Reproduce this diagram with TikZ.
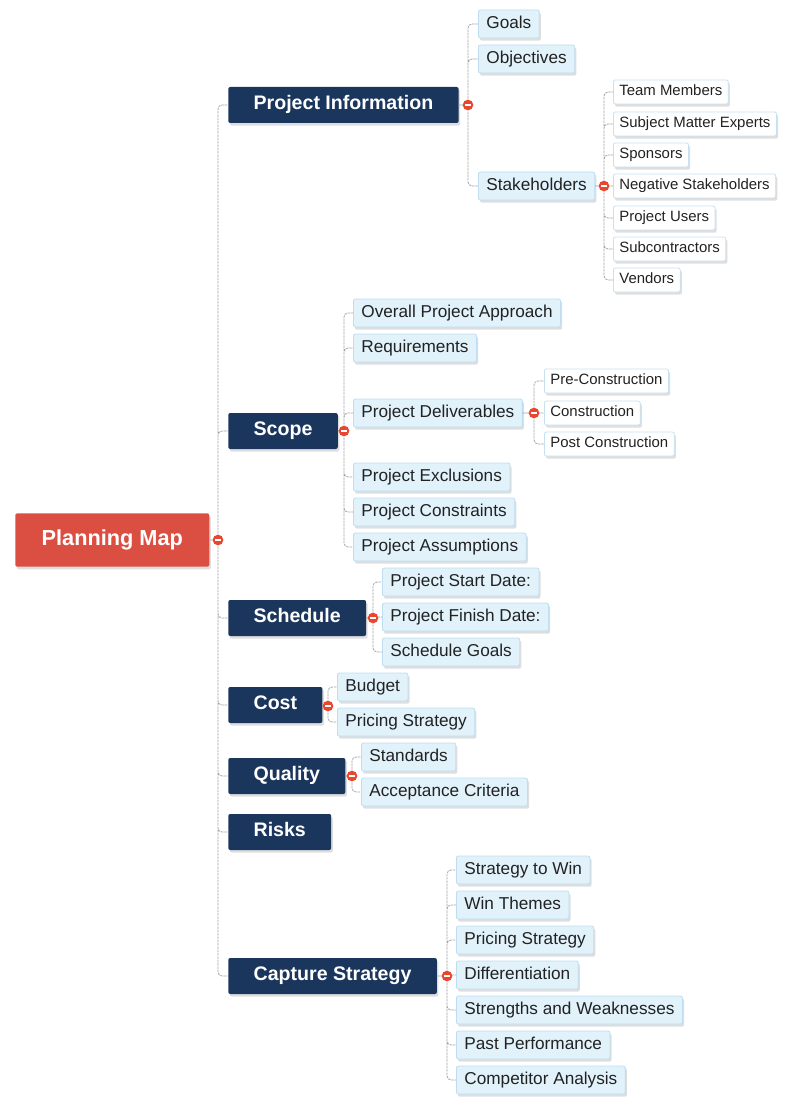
\documentclass[tikz,border=0pt]{standalone}
\usepackage{fontspec}
\setmainfont{Liberation Sans}
\usetikzlibrary{shadows}
\definecolor{mapred}{HTML}{DB4F43}
\definecolor{navy}{HTML}{1B365D}
\definecolor{subfill}{HTML}{E1F2FB}
\definecolor{subline}{HTML}{BEDDF1}
\definecolor{leafline}{HTML}{C8E1F1}
\definecolor{ink}{HTML}{222222}
\definecolor{linkgray}{HTML}{A3A3A3}
\definecolor{dotred}{HTML}{E8462F}
\begin{document}
\begin{tikzpicture}[x=0.75pt,y=-0.75pt,line cap=round,line join=round,
  box/.style={rectangle,rounded corners=1.5pt,anchor=west,
    drop shadow={shadow xshift=1.2pt,shadow yshift=-2pt,opacity=0.13,fill=black}},
  rootbox/.style={box,fill=mapred,text=white,font=\fontsize{16.3}{19}\selectfont\bfseries,
    text height=11.7pt,text depth=3.4pt,minimum width=145.5pt,minimum height=40pt},
  topic/.style={box,fill=navy,text=white,font=\fontsize{14.7}{17}\selectfont\bfseries,
    text height=10.5pt,text depth=3.1pt,inner xsep=19pt,minimum height=27pt},
  sub/.style={box,fill=subfill,draw=subline,line width=0.6pt,text=ink,
    font=\fontsize{12.9}{15}\selectfont,text height=9.2pt,text depth=2.7pt,
    inner xsep=6pt,minimum height=21pt},
  leaf/.style={box,fill=white,draw=leafline,line width=0.6pt,text=ink,
    font=\fontsize{11.2}{13}\selectfont,text height=8.1pt,text depth=2.4pt,
    inner xsep=4.5pt,minimum height=18pt},
  link/.style={draw=linkgray,line width=0.6pt,dash pattern=on 1.5pt off 1pt,rounded corners=3pt},
  stub/.style={draw=linkgray,line width=0.6pt},
  dot/.style={circle,fill=dotred,inner sep=0pt,minimum size=8pt,
    path picture={\draw[white,line width=1.2pt,line cap=butt]
      ([xshift=-2.2pt]path picture bounding box.center) -- ([xshift=2.2pt]path picture bounding box.center);}}]
  \useasboundingbox (0,0) rectangle (794,1116);
  \node[rootbox] (map) at (15,540) {Planning Map};
  \node[topic] (info) at (228,105) {Project Information};
  \node[topic] (scope) at (228,431) {Scope};
  \node[topic] (sched) at (228,618) {Schedule};
  \node[topic] (cost) at (228,705) {Cost};
  \node[topic] (qual) at (228,776) {Quality};
  \node[topic] (risks) at (228,832) {Risks};
  \node[topic] (capt) at (228,976) {Capture Strategy};

  \node[sub] (goals) at (478,24) {Goals};
  \node[sub] (obj) at (478,59) {Objectives};
  \node[sub] (stake) at (478,186) {Stakeholders};
  \node[leaf] (team) at (613,92) {Team Members};
  \node[leaf] (experts) at (613,124) {Subject Matter Experts};
  \node[leaf] (sponsors) at (613,155) {Sponsors};
  \node[leaf] (negative) at (613,186) {Negative Stakeholders};
  \node[leaf] (users) at (613,218) {Project Users};
  \node[leaf] (subcon) at (613,249) {Subcontractors};
  \node[leaf] (vendors) at (613,280) {Vendors};

  \node[sub] (approach) at (353,313) {Overall Project Approach};
  \node[sub] (reqs) at (353,348) {Requirements};
  \node[sub] (deliv) at (353,413) {Project Deliverables};
  \node[sub] (excl) at (353,477) {Project Exclusions};
  \node[sub] (constr) at (353,512) {Project Constraints};
  \node[sub] (assum) at (353,547) {Project Assumptions};
  \node[leaf] (precon) at (544,381) {Pre-Construction};
  \node[leaf] (con) at (544,413) {Construction};
  \node[leaf] (postcon) at (544,444) {Post Construction};

  \node[sub] (start) at (382,582) {Project Start Date:};
  \node[sub] (finish) at (382,617) {Project Finish Date:};
  \node[sub] (sgoals) at (382,652) {Schedule Goals};
  \node[sub] (budget) at (337,687) {Budget};
  \node[sub] (pricing) at (337,722) {Pricing Strategy};
  \node[sub] (standards) at (361,757) {Standards};
  \node[sub] (accept) at (361,792) {Acceptance Criteria};

  \node[sub] (towin) at (456,870) {Strategy to Win};
  \node[sub] (themes) at (456,905) {Win Themes};
  \node[sub] (cprice) at (456,940) {Pricing Strategy};
  \node[sub] (diff) at (456,975) {Differentiation};
  \node[sub] (strengths) at (456,1010) {Strengths and Weaknesses};
  \node[sub] (past) at (456,1045) {Past Performance};
  \node[sub] (comp) at (456,1080) {Competitor Analysis};

  \coordinate (mapdot) at (218,540);
  \coordinate (infodot) at (468,105);
  \coordinate (stakedot) at (604,186);
  \coordinate (scopedot) at (344,431);
  \coordinate (delivdot) at (534,413);
  \coordinate (scheddot) at (373,618);
  \coordinate (costdot) at (328,706);
  \coordinate (qualdot) at (352,776);
  \coordinate (captdot) at (447,976);

  \draw[stub] (map.east) -- (mapdot) (info.east) -- (infodot) (stake.east) -- (stakedot)
    (scope.east) -- (scopedot) (deliv.east) -- (delivdot) (sched.east) -- (scheddot)
    (cost.east) -- (costdot) (qual.east) -- (qualdot) (capt.east) -- (captdot);
  \draw[link] (mapdot) |- (info.west) (mapdot) |- (scope.west) (mapdot) |- (sched.west)
    (mapdot) |- (cost.west) (mapdot) |- (qual.west) (mapdot) |- (risks.west)
    (mapdot) |- (capt.west);
  \draw[link] (infodot) |- (goals.west) (infodot) |- (obj.west) (infodot) |- (stake.west);
  \draw[link] (stakedot) |- (team.west) (stakedot) |- (experts.west) (stakedot) |- (sponsors.west)
    (stakedot) |- (negative.west) (stakedot) |- (users.west) (stakedot) |- (subcon.west)
    (stakedot) |- (vendors.west);
  \draw[link] (scopedot) |- (approach.west) (scopedot) |- (reqs.west) (scopedot) |- (deliv.west)
    (scopedot) |- (excl.west) (scopedot) |- (constr.west) (scopedot) |- (assum.west);
  \draw[link] (delivdot) |- (precon.west) (delivdot) |- (con.west) (delivdot) |- (postcon.west);
  \draw[link] (scheddot) |- (start.west) (scheddot) |- (finish.west) (scheddot) |- (sgoals.west);
  \draw[link] (costdot) |- (budget.west) (costdot) |- (pricing.west);
  \draw[link] (qualdot) |- (standards.west) (qualdot) |- (accept.west);
  \draw[link] (captdot) |- (towin.west) (captdot) |- (themes.west) (captdot) |- (cprice.west)
    (captdot) |- (diff.west) (captdot) |- (strengths.west) (captdot) |- (past.west)
    (captdot) |- (comp.west);

  \node[dot] at (mapdot) {};
  \node[dot] at (infodot) {};
  \node[dot] at (stakedot) {};
  \node[dot] at (scopedot) {};
  \node[dot] at (delivdot) {};
  \node[dot] at (scheddot) {};
  \node[dot] at (costdot) {};
  \node[dot] at (qualdot) {};
  \node[dot] at (captdot) {};
\end{tikzpicture}
\end{document}
